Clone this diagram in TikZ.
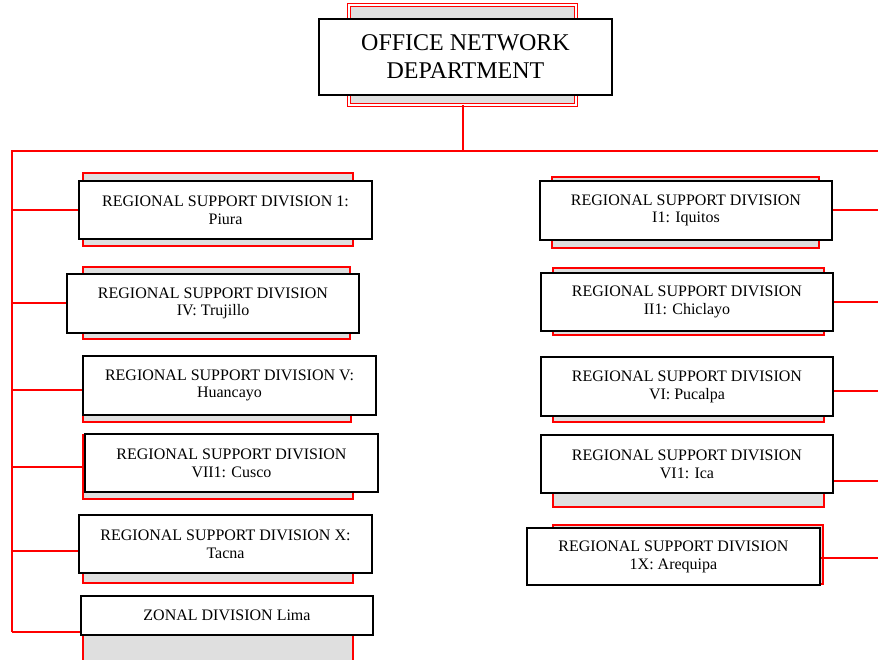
\documentclass[tikz,border=0pt]{standalone}
\usepackage{fontspec}
\setmainfont{Liberation Serif}
\tikzstyle{node_style} = [rectangle, draw=black, line width=1.6pt, fill=white, align=center, inner sep=0pt, font=\fontsize{16}{17.8}\selectfont]
\tikzstyle{shadow_style} = [rectangle, draw=red, line width=1.2pt, fill=gray!25, inner sep=0pt]
\tikzstyle{link_style} = [draw=red, line width=1.3pt]

\begin{document}
\begin{tikzpicture}[x=1pt, y=-1pt]

	  \useasboundingbox (0,0) rectangle (878,659);
	  \clip (0,0) rectangle (878,659);

	  % department
	  \node[shadow_style, double, double distance=1.6pt, line width=0.9pt, minimum width=227pt, minimum height=100pt] (dept_bg) at (462.5,55) {};
	  \node[node_style, font=\fontsize{24}{28}\selectfont, minimum width=293pt, minimum height=76pt] (dept) at (465.5,57) {OFFICE NETWORK\\DEPARTMENT};
	  \coordinate (top_join) at (463,151);
	  \coordinate (bus_left) at (12,151);
	  \coordinate (bus_right) at (878,151);
	  \coordinate (bus_end) at (12,632);
	  \draw[link_style] (dept_bg.south -| top_join) -- (top_join);
	  \draw[link_style] (bus_right) -- (bus_left) -- (bus_end);

	  % left column
	  \node[shadow_style, minimum width=270pt, minimum height=73pt] (left1_bg) at (218,209.5) {};
	  \node[node_style, minimum width=293pt, minimum height=58pt] (left1) at (225.5,210) {REGIONAL SUPPORT DIVISION 1:\\Piura};
	  \coordinate (c_l1) at (left1.west);
	  \draw[link_style] (c_l1) -- (c_l1 -| bus_left);

	  \node[shadow_style, minimum width=267pt, minimum height=72pt] (left2_bg) at (216.5,303) {};
	  \node[node_style, minimum width=292pt, minimum height=59pt] (left2) at (213,303.5) {REGIONAL SUPPORT DIVISION\\IV: Trujillo};
	  \coordinate (c_l2) at ([yshift=0.5pt]left2.west);
	  \draw[link_style] (c_l2) -- (c_l2 -| bus_left);

	  \node[shadow_style, minimum width=268pt, minimum height=62pt] (left3_bg) at (217,391) {};
	  \node[node_style, minimum width=293pt, minimum height=59pt] (left3) at (229.5,385.5) {REGIONAL SUPPORT DIVISION V:\\Huancayo};
	  \coordinate (c_l3) at ([yshift=-4.5pt]left3.west);
	  \draw[link_style] (c_l3) -- (c_l3 -| bus_left);

	  \node[shadow_style, minimum width=270pt, minimum height=64pt] (left4_bg) at (218,467) {};
	  \node[node_style, minimum width=293pt, minimum height=58pt] (left4) at (231.5,463) {REGIONAL SUPPORT DIVISION\\VII1: Cusco};
	  \coordinate (c_l4) at ([yshift=-4pt]left4.west);
	  \draw[link_style] (c_l4) -- (c_l4 -| bus_left);

	  \node[shadow_style, minimum width=270pt, minimum height=63pt] (left5_bg) at (218,551.5) {};
	  \node[node_style, minimum width=293pt, minimum height=58pt] (left5) at (225.5,544) {REGIONAL SUPPORT DIVISION X:\\Tacna};
	  \coordinate (c_l5) at ([yshift=-7pt]left5.west);
	  \draw[link_style] (c_l5) -- (c_l5 -| bus_left);

	  \node[shadow_style, minimum width=270pt, minimum height=70pt] (left6_bg) at (218,635) {};
	  \node[node_style, minimum width=292pt, minimum height=39pt] (left6) at (227,615.5) {ZONAL DIVISION Lima};
	  \coordinate (c_l6) at ([yshift=-16.5pt]left6.west);
	  \draw[link_style] (c_l6) -- (c_l6 -| bus_left);

	  % right column
	  \node[shadow_style, minimum width=267pt, minimum height=71pt] (right1_bg) at (685.5,212.5) {};
	  \node[node_style, minimum width=292pt, minimum height=59pt] (right1) at (686,210.5) {REGIONAL SUPPORT DIVISION\\I1: Iquitos};
	  \coordinate (c_r1) at ([yshift=0.5pt]right1.east);
	  \draw[link_style] (c_r1) -- (c_r1 -| bus_right);

	  \node[shadow_style, minimum width=271pt, minimum height=67pt] (right2_bg) at (688.5,301.5) {};
	  \node[node_style, minimum width=292pt, minimum height=58pt] (right2) at (687,302) {REGIONAL SUPPORT DIVISION\\II1: Chiclayo};
	  \coordinate (c_r2) at (right2.east);
	  \draw[link_style] (c_r2) -- (c_r2 -| bus_right);

	  \node[shadow_style, minimum width=271pt, minimum height=60pt] (right3_bg) at (688.5,392) {};
	  \node[node_style, minimum width=292pt, minimum height=59pt] (right3) at (687,386.5) {REGIONAL SUPPORT DIVISION\\VI: Pucalpa};
	  \coordinate (c_r3) at ([yshift=-4.5pt]right3.east);
	  \draw[link_style] (c_r3) -- (c_r3 -| bus_right);

	  \node[shadow_style, minimum width=271pt, minimum height=67pt] (right4_bg) at (688.5,473.5) {};
	  \node[node_style, minimum width=292pt, minimum height=58pt] (right4) at (687,464) {REGIONAL SUPPORT DIVISION\\VI1: Ica};
	  \coordinate (c_r4) at ([yshift=-17pt]right4.east);
	  \draw[link_style] (c_r4) -- (c_r4 -| bus_right);

	  \node[shadow_style, minimum width=270pt, minimum height=59pt] (right5_bg) at (688,554.5) {};
	  \node[node_style, minimum width=293pt, minimum height=57pt] (right5) at (673.5,556.5) {REGIONAL SUPPORT DIVISION\\1X: Arequipa};
	  \coordinate (c_r5) at ([yshift=-1.5pt]right5.east);
	  \draw[link_style] (c_r5) -- (c_r5 -| bus_right);

\end{tikzpicture}
\end{document}
